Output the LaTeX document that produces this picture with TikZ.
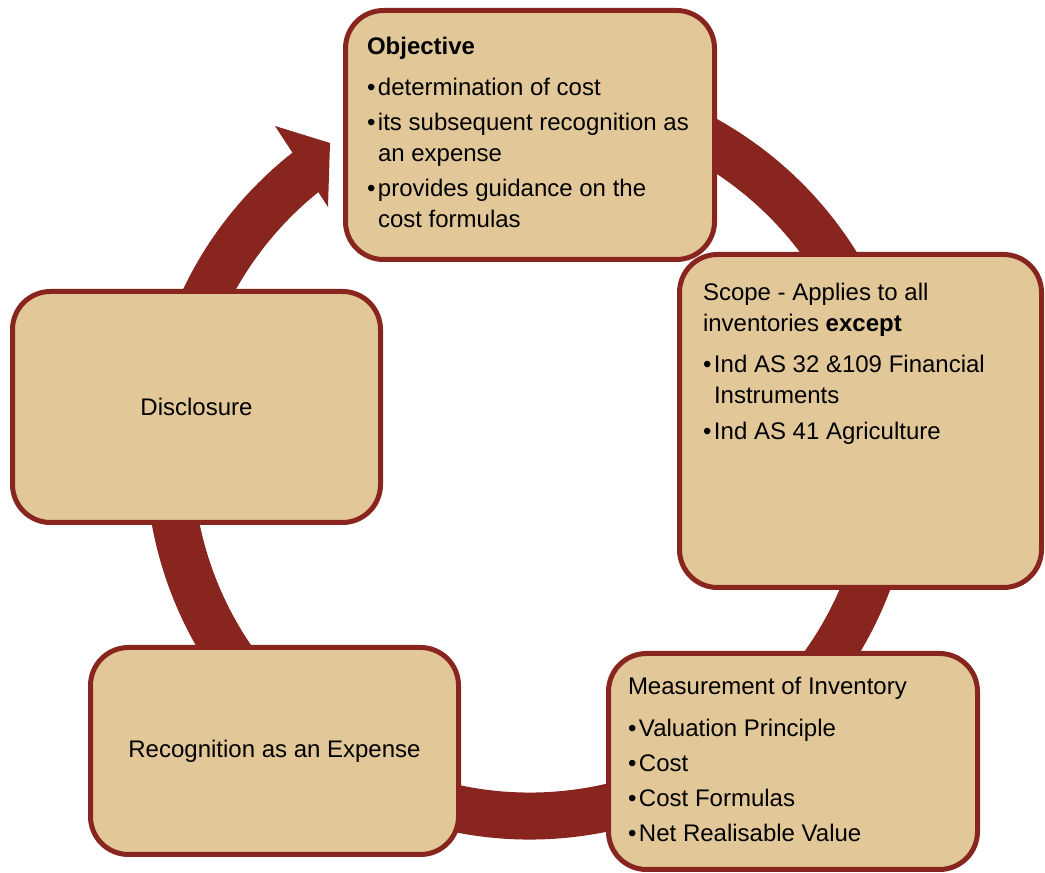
\documentclass[tikz,border=0pt]{standalone}
\usepackage{fontspec}
\setmainfont{Liberation Sans}
\usetikzlibrary{positioning}
\definecolor{ringred}{RGB}{137,37,31}
\definecolor{boxtan}{RGB}{226,200,152}
\newcommand{\bitem}{\makebox[11pt][l]{\textbullet}}
\newcommand{\bcont}{\hspace*{11pt}}
\tikzset{every node/.style={font=\fontsize{24}{31}\selectfont, inner sep=0pt, outer sep=0pt},
  box/.style={draw=ringred, fill=boxtan, line width=5pt, rounded corners=38pt, align=center},
  boxtext/.style={anchor=north west, align=left},
  ring/.style={draw=ringred, line width=47pt}}

\begin{document}
\begin{tikzpicture}[x=1pt,y=1pt]
   \useasboundingbox (0,0) rectangle (1045,873);
   \coordinate (c) at (530,418);
   \draw[ring] (c) ++(100:361) arc[start angle=100, end angle=-232.5, radius=361];
   \fill[ringred] (275,747) -- (330,730) -- (328,666) -- cycle;
   \node[box, minimum width=369, minimum height=249] (obj) at (530,738) {};
   \node[box, minimum width=362, minimum height=333] (scope) at (860.5,452) {};
   \node[box, minimum width=369, minimum height=216] (meas) at (793,111.5) {};
   \node[box, minimum width=368, minimum height=207] (recog) at (274.5,122) {Recognition as an Expense};
   \node[box, minimum width=368, minimum height=231] (disc) at (196.5,466) {Disclosure};
   \node[boxtext] (obj-txt) at ([shift={(21.5,-26.5)}]obj.north west)
    {{\bfseries Objective}\\[10pt]
     \bitem determination of cost\\[4pt]
     \bitem its subsequent recognition as\\
     \bcont an expense\\[4pt]
     \bitem provides guidance on the\\
     \bcont cost formulas};
   \node[boxtext] (scope-txt) at ([shift={(23.5,-28.5)}]scope.north west)
    {Scope - Applies to all\\
     inventories {\bfseries except}\\[10pt]
     \bitem Ind AS 32 \&109 Financial\\
     \bcont Instruments\\[5pt]
     \bitem Ind AS 41 Agriculture};
   \node[boxtext] (meas-txt) at ([shift={(19.5,-23.5)}]meas.north west)
    {Measurement of Inventory\\[11pt]
     \bitem Valuation Principle\\[4pt]
     \bitem Cost\\[4pt]
     \bitem Cost Formulas\\[4pt]
     \bitem Net Realisable Value};
  \end{tikzpicture}
\end{document}
